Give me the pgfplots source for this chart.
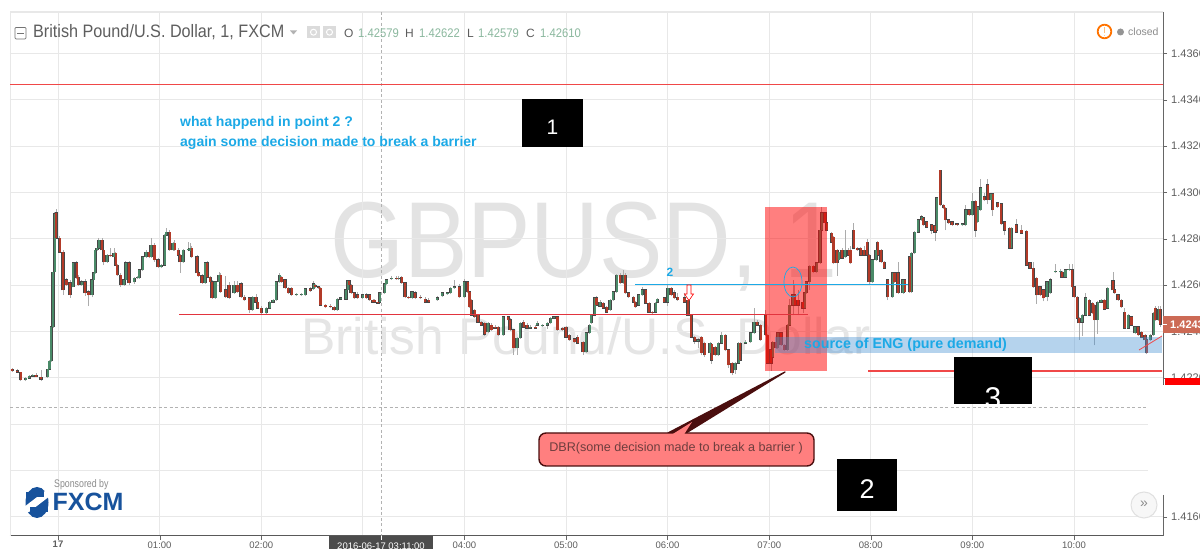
\documentclass[border=0pt]{standalone}
\usepackage{pgfplots}
\usepackage{pgfplotstable}
\usepackage{fontspec}
\setmainfont{Liberation Sans}
\pgfplotsset{compat=1.18}
\definecolor{gridc}{HTML}{E8E8E8}
\definecolor{upc}{HTML}{4A8A68}
\definecolor{dnc}{HTML}{B23A28}
\definecolor{txtb}{HTML}{1CA9E6}
\definecolor{lab}{HTML}{5E5E5E}
\definecolor{ohlc}{HTML}{8BB89E}
\definecolor{lastc}{HTML}{CC6A55}
\definecolor{fxcm}{HTML}{17529C}
\definecolor{redline}{HTML}{E2343E}
\definecolor{redsoft}{HTML}{F04848}
\definecolor{redbox}{HTML}{FF7F7F}
\definecolor{bandc}{HTML}{4691D4}
\definecolor{darkred}{HTML}{4A0E0E}
\pgfplotstableread{
m o h l c
-27 1.42238 1.42242 1.42225 1.42230
-24 1.42230 1.42238 1.42221 1.42225
-22 1.42225 1.42225 1.42186 1.42191
-19 1.42191 1.42204 1.42186 1.42199
-17 1.42199 1.42212 1.42195 1.42208
-15 1.42208 1.42216 1.42204 1.42212
-13 1.42212 1.42221 1.42208 1.42204
-10 1.42204 1.42234 1.42186 1.42195
-6 1.42204 1.42238 1.42199 1.42238
-5 1.42238 1.42277 1.42234 1.42273
-4 1.42273 1.42424 1.42269 1.42420
-3 1.42420 1.42700 1.42416 1.42657
-2 1.42657 1.42917 1.42653 1.42908
-1 1.42912 1.42929 1.42799 1.42803
1 1.42803 1.42812 1.42739 1.42743
3 1.42743 1.42752 1.42558 1.42580
5 1.42623 1.42632 1.42597 1.42601
7 1.42610 1.42623 1.42545 1.42558
9 1.42593 1.42700 1.42593 1.42696
11 1.42696 1.42705 1.42627 1.42631
12 1.42635 1.42644 1.42597 1.42601
14 1.42601 1.42623 1.42597 1.42614
16 1.42614 1.42627 1.42554 1.42567
18 1.42571 1.42580 1.42510 1.42558
20 1.42558 1.42627 1.42549 1.42623
21 1.42623 1.42657 1.42619 1.42653
22 1.42653 1.42756 1.42649 1.42752
23 1.42752 1.42769 1.42748 1.42760
24 1.42760 1.42803 1.42756 1.42795
26 1.42795 1.42803 1.42748 1.42752
27 1.42752 1.42760 1.42687 1.42700
29 1.42700 1.42735 1.42696 1.42730
31 1.42730 1.42760 1.42722 1.42726
33 1.42722 1.42760 1.42717 1.42739
34 1.42739 1.42743 1.42683 1.42687
35 1.42687 1.42692 1.42640 1.42644
37 1.42644 1.42653 1.42593 1.42601
39 1.42601 1.42627 1.42597 1.42623
40 1.42623 1.42705 1.42619 1.42696
42 1.42696 1.42705 1.42601 1.42610
45 1.42614 1.42635 1.42606 1.42631
47 1.42631 1.42640 1.42627 1.42635
48 1.42631 1.42670 1.42627 1.42666
50 1.42666 1.42726 1.42661 1.42722
52 1.42722 1.42752 1.42717 1.42743
54 1.42743 1.42748 1.42717 1.42722
55 1.42722 1.42803 1.42717 1.42773
57 1.42773 1.42782 1.42700 1.42709
59 1.42709 1.42717 1.42674 1.42679
61 1.42679 1.42692 1.42674 1.42687
63 1.42687 1.42820 1.42683 1.42816
64 1.42816 1.42846 1.42812 1.42829
66 1.42829 1.42838 1.42748 1.42752
68 1.42752 1.42786 1.42748 1.42782
69 1.42782 1.42795 1.42748 1.42752
71 1.42752 1.42760 1.42726 1.42730
72 1.42730 1.42735 1.42653 1.42700
74 1.42700 1.42756 1.42696 1.42752
77 1.42752 1.42786 1.42748 1.42756
78 1.42748 1.42782 1.42743 1.42760
79 1.42760 1.42769 1.42717 1.42722
82 1.42722 1.42730 1.42648 1.42653
83 1.42653 1.42661 1.42635 1.42640
85 1.42640 1.42648 1.42606 1.42610
87 1.42610 1.42700 1.42606 1.42696
88 1.42696 1.42705 1.42631 1.42635
90 1.42635 1.42640 1.42610 1.42614
91 1.42614 1.42623 1.42540 1.42545
93 1.42545 1.42619 1.42540 1.42614
95 1.42614 1.42657 1.42610 1.42644
96 1.42644 1.42653 1.42567 1.42571
99 1.42580 1.42640 1.42545 1.42549
101 1.42601 1.42614 1.42540 1.42545
104 1.42567 1.42619 1.42562 1.42601
106 1.42601 1.42619 1.42567 1.42571
108 1.42606 1.42614 1.42545 1.42549
110 1.42549 1.42558 1.42532 1.42536
113 1.42545 1.42549 1.42480 1.42493
115 1.42493 1.42553 1.42489 1.42549
117 1.42549 1.42562 1.42523 1.42527
118 1.42527 1.42532 1.42497 1.42501
120 1.42501 1.42510 1.42471 1.42480
123 1.42480 1.42506 1.42475 1.42501
125 1.42501 1.42532 1.42497 1.42527
127 1.42527 1.42540 1.42523 1.42536
129 1.42536 1.42619 1.42532 1.42614
131 1.42614 1.42653 1.42610 1.42644
132 1.42635 1.42640 1.42610 1.42614
134 1.42623 1.42627 1.42584 1.42588
136 1.42588 1.42593 1.42562 1.42567
138 1.42588 1.42593 1.42553 1.42558
141 1.42558 1.42567 1.42553 1.42562
144 1.42558 1.42567 1.42553 1.42562
146 1.42558 1.42588 1.42553 1.42584
149 1.42584 1.42593 1.42571 1.42575
151 1.42584 1.42619 1.42580 1.42606
152 1.42601 1.42606 1.42588 1.42593
154 1.42593 1.42597 1.42584 1.42588
155 1.42588 1.42593 1.42510 1.42514
158 1.42514 1.42519 1.42501 1.42506
161 1.42510 1.42519 1.42501 1.42506
163 1.42506 1.42510 1.42489 1.42493
165 1.42493 1.42545 1.42489 1.42540
167 1.42540 1.42549 1.42536 1.42545
170 1.42540 1.42584 1.42536 1.42580
171 1.42580 1.42623 1.42575 1.42619
172 1.42619 1.42623 1.42597 1.42601
173 1.42601 1.42606 1.42562 1.42567
175 1.42567 1.42571 1.42540 1.42545
177 1.42558 1.42571 1.42540 1.42545
180 1.42545 1.42562 1.42540 1.42558
182 1.42558 1.42567 1.42540 1.42545
184 1.42558 1.42562 1.42532 1.42536
186 1.42536 1.42540 1.42523 1.42527
187 1.42536 1.42540 1.42523 1.42527
189 1.42527 1.42532 1.42519 1.42523
190 1.42527 1.42571 1.42523 1.42567
193 1.42567 1.42610 1.42562 1.42606
194 1.42606 1.42627 1.42601 1.42623
197 1.42627 1.42640 1.42623 1.42631
200 1.42631 1.42640 1.42623 1.42627
201 1.42627 1.42640 1.42623 1.42631
203 1.42635 1.42640 1.42606 1.42610
205 1.42610 1.42614 1.42545 1.42549
207 1.42549 1.42553 1.42540 1.42545
209 1.42545 1.42575 1.42540 1.42571
211 1.42567 1.42575 1.42540 1.42545
214 1.42549 1.42558 1.42540 1.42545
217 1.42540 1.42549 1.42523 1.42527
219 1.42536 1.42545 1.42523 1.42527
224 1.42536 1.42553 1.42532 1.42545
227 1.42554 1.42571 1.42549 1.42567
230 1.42562 1.42571 1.42558 1.42567
232 1.42567 1.42592 1.42562 1.42588
234 1.42588 1.42623 1.42584 1.42593
237 1.42593 1.42606 1.42545 1.42549
240 1.42549 1.42627 1.42545 1.42614
242 1.42614 1.42619 1.42567 1.42571
243 1.42571 1.42576 1.42502 1.42506
244 1.42536 1.42540 1.42467 1.42471
246 1.42493 1.42497 1.42459 1.42463
248 1.42471 1.42476 1.42437 1.42441
250 1.42441 1.42445 1.42424 1.42428
252 1.42437 1.42441 1.42380 1.42389
254 1.42398 1.42441 1.42394 1.42437
256 1.42428 1.42437 1.42402 1.42407
258 1.42419 1.42428 1.42411 1.42415
260 1.42419 1.42424 1.42381 1.42385
263 1.42385 1.42467 1.42381 1.42463
266 1.42463 1.42467 1.42445 1.42450
267 1.42450 1.42458 1.42402 1.42407
269 1.42407 1.42411 1.42299 1.42329
271 1.42329 1.42376 1.42299 1.42372
273 1.42372 1.42441 1.42368 1.42437
275 1.42441 1.42450 1.42415 1.42419
277 1.42428 1.42437 1.42411 1.42415
279 1.42415 1.42428 1.42411 1.42419
282 1.42419 1.42428 1.42411 1.42415
283 1.42428 1.42445 1.42424 1.42437
286 1.42424 1.42432 1.42420 1.42428
289 1.42428 1.42441 1.42411 1.42437
291 1.42437 1.42463 1.42432 1.42458
293 1.42458 1.42467 1.42454 1.42463
295 1.42463 1.42467 1.42402 1.42407
298 1.42415 1.42419 1.42402 1.42407
300 1.42419 1.42424 1.42372 1.42376
302 1.42385 1.42389 1.42360 1.42364
305 1.42368 1.42372 1.42350 1.42355
307 1.42376 1.42385 1.42346 1.42350
310 1.42355 1.42360 1.42299 1.42312
312 1.42312 1.42398 1.42308 1.42394
314 1.42394 1.42432 1.42389 1.42428
315 1.42437 1.42475 1.42432 1.42471
317 1.42471 1.42549 1.42467 1.42545
318 1.42545 1.42553 1.42510 1.42514
320 1.42510 1.42536 1.42506 1.42527
322 1.42523 1.42527 1.42497 1.42501
324 1.42506 1.42510 1.42480 1.42484
326 1.42493 1.42540 1.42489 1.42536
328 1.42536 1.42575 1.42532 1.42571
330 1.42571 1.42648 1.42567 1.42644
332 1.42644 1.42653 1.42606 1.42610
334 1.42610 1.42666 1.42606 1.42644
335 1.42644 1.42653 1.42562 1.42567
337 1.42567 1.42571 1.42545 1.42549
340 1.42549 1.42553 1.42523 1.42527
341 1.42527 1.42532 1.42502 1.42506
343 1.42514 1.42562 1.42510 1.42558
345 1.42558 1.42593 1.42553 1.42580
347 1.42580 1.42584 1.42519 1.42523
349 1.42523 1.42527 1.42480 1.42484
351 1.42484 1.42489 1.42471 1.42480
353 1.42484 1.42527 1.42480 1.42523
354 1.42527 1.42545 1.42523 1.42540
358 1.42545 1.42549 1.42523 1.42527
360 1.42527 1.42601 1.42510 1.42588
362 1.42588 1.42592 1.42553 1.42558
364 1.42567 1.42580 1.42540 1.42545
366 1.42549 1.42567 1.42532 1.42536
370 1.42545 1.42567 1.42523 1.42527
372 1.42536 1.42540 1.42467 1.42471
374 1.42471 1.42476 1.42372 1.42376
376 1.42376 1.42381 1.42346 1.42359
378 1.42359 1.42372 1.42329 1.42364
380 1.42376 1.42380 1.42299 1.42308
382 1.42350 1.42355 1.42290 1.42299
385 1.42308 1.42355 1.42304 1.42350
386 1.42346 1.42350 1.42260 1.42277
388 1.42333 1.42338 1.42294 1.42299
390 1.42299 1.42355 1.42295 1.42350
392 1.42350 1.42400 1.42346 1.42385
394 1.42385 1.42390 1.42316 1.42321
396 1.42321 1.42326 1.42243 1.42256
398 1.42264 1.42268 1.42212 1.42221
400 1.42234 1.42268 1.42216 1.42264
402 1.42264 1.42355 1.42260 1.42350
403 1.42350 1.42355 1.42273 1.42277
406 1.42350 1.42365 1.42346 1.42355
409 1.42355 1.42398 1.42350 1.42394
411 1.42394 1.42502 1.42389 1.42441
413 1.42441 1.42450 1.42424 1.42428
415 1.42428 1.42432 1.42360 1.42364
418 1.42471 1.42493 1.42381 1.42385
419 1.42385 1.42389 1.42260 1.42264
421 1.42321 1.42325 1.42230 1.42264
422 1.42290 1.42360 1.42286 1.42355
424 1.42355 1.42360 1.42325 1.42329
425 1.42329 1.42398 1.42325 1.42394
427 1.42394 1.42398 1.42338 1.42342
429 1.42342 1.42346 1.42316 1.42321
431 1.42321 1.42432 1.42316 1.42428
432 1.42428 1.42540 1.42424 1.42514
434 1.42514 1.42623 1.42470 1.42558
435 1.42558 1.42600 1.42510 1.42514
437 1.42536 1.42580 1.42470 1.42514
440 1.42527 1.42532 1.42480 1.42501
441 1.42501 1.42571 1.42497 1.42567
442 1.42567 1.42618 1.42562 1.42614
444 1.42614 1.42687 1.42580 1.42683
446 1.42683 1.42687 1.42652 1.42657
448 1.42657 1.42700 1.42652 1.42696
450 1.42696 1.42842 1.42692 1.42838
451 1.42838 1.42938 1.42833 1.42912
453 1.42912 1.42916 1.42865 1.42869
454 1.42869 1.42873 1.42833 1.42838
457 1.42825 1.42830 1.42781 1.42786
458 1.42808 1.42812 1.42691 1.42696
460 1.42752 1.42756 1.42640 1.42696
461 1.42709 1.42748 1.42705 1.42743
463 1.42752 1.42760 1.42712 1.42717
465 1.42722 1.42838 1.42717 1.42752
467 1.42752 1.42760 1.42725 1.42730
468 1.42752 1.42770 1.42691 1.42696
470 1.42838 1.42869 1.42755 1.42760
472 1.42760 1.42765 1.42747 1.42752
474 1.42760 1.42765 1.42725 1.42730
476 1.42752 1.42770 1.42725 1.42730
478 1.42786 1.42799 1.42725 1.42730
479 1.42730 1.42735 1.42601 1.42614
481 1.42614 1.42713 1.42610 1.42709
483 1.42709 1.42756 1.42705 1.42752
484 1.42786 1.42791 1.42725 1.42730
486 1.42752 1.42756 1.42695 1.42700
488 1.42700 1.42705 1.42669 1.42674
490 1.42623 1.42627 1.42536 1.42549
493 1.42549 1.42657 1.42545 1.42653
494 1.42653 1.42657 1.42610 1.42614
496 1.42653 1.42700 1.42562 1.42567
499 1.42567 1.42627 1.42562 1.42623
500 1.42623 1.42628 1.42566 1.42571
503 1.42722 1.42726 1.42566 1.42571
504 1.42571 1.42743 1.42566 1.42739
506 1.42739 1.42833 1.42734 1.42829
508 1.42829 1.42886 1.42825 1.42882
510 1.42882 1.42903 1.42878 1.42895
511 1.42891 1.42895 1.42855 1.42860
513 1.42873 1.42878 1.42846 1.42851
516 1.42860 1.42865 1.42820 1.42838
518 1.42856 1.42860 1.42790 1.42829
519 1.42838 1.42981 1.42833 1.42977
521 1.43097 1.43097 1.42941 1.42946
523 1.42946 1.42950 1.42928 1.42933
524 1.42933 1.42937 1.42838 1.42882
526 1.42882 1.42887 1.42864 1.42869
528 1.42873 1.42877 1.42855 1.42860
531 1.42865 1.42870 1.42855 1.42860
534 1.42860 1.42869 1.42855 1.42865
536 1.42860 1.42946 1.42855 1.42925
538 1.42925 1.42930 1.42898 1.42903
540 1.42903 1.42998 1.42898 1.42963
542 1.42963 1.42967 1.42808 1.42838
543 1.42873 1.42942 1.42868 1.42938
545 1.42925 1.43058 1.42920 1.43020
547 1.42981 1.43000 1.42963 1.42968
549 1.43033 1.43058 1.42950 1.42968
551 1.42968 1.42998 1.42963 1.42994
552 1.42994 1.42998 1.42900 1.42925
555 1.42955 1.42960 1.42933 1.42938
557 1.42951 1.42955 1.42860 1.42865
559 1.42873 1.42877 1.42815 1.42838
562 1.42846 1.42850 1.42755 1.42760
563 1.42760 1.42850 1.42755 1.42846
566 1.42860 1.42885 1.42825 1.42829
569 1.42838 1.42860 1.42820 1.42825
572 1.42833 1.42838 1.42682 1.42687
574 1.42696 1.42700 1.42670 1.42674
576 1.42674 1.42700 1.42588 1.42593
578 1.42631 1.42636 1.42520 1.42558
580 1.42593 1.42598 1.42553 1.42558
582 1.42580 1.42584 1.42530 1.42545
584 1.42549 1.42618 1.42530 1.42614
586 1.42567 1.42630 1.42562 1.42623
589 1.42657 1.42690 1.42652 1.42661
592 1.42657 1.42670 1.42652 1.42661
593 1.42657 1.42662 1.42630 1.42635
595 1.42635 1.42670 1.42630 1.42666
597 1.42666 1.42690 1.42661 1.42670
599 1.42666 1.42690 1.42588 1.42593
600 1.42593 1.42598 1.42544 1.42549
602 1.42549 1.42553 1.42453 1.42458
603 1.42458 1.42462 1.42365 1.42437
605 1.42441 1.42475 1.42380 1.42471
607 1.42471 1.42567 1.42466 1.42545
609 1.42536 1.42540 1.42466 1.42471
611 1.42523 1.42527 1.42475 1.42480
612 1.42514 1.42518 1.42340 1.42450
614 1.42450 1.42531 1.42390 1.42527
616 1.42527 1.42541 1.42522 1.42536
618 1.42536 1.42541 1.42492 1.42497
620 1.42501 1.42592 1.42496 1.42588
623 1.42619 1.42657 1.42575 1.42580
624 1.42580 1.42584 1.42562 1.42567
626 1.42558 1.42562 1.42531 1.42536
628 1.42536 1.42541 1.42501 1.42506
630 1.42484 1.42500 1.42410 1.42415
632 1.42415 1.42475 1.42410 1.42471
634 1.42463 1.42467 1.42423 1.42428
636 1.42394 1.42424 1.42389 1.42420
638 1.42420 1.42424 1.42380 1.42385
640 1.42398 1.42402 1.42371 1.42376
642 1.42385 1.42389 1.42359 1.42364
643 1.42364 1.42368 1.42303 1.42308
645 1.42364 1.42389 1.42359 1.42385
647 1.42385 1.42484 1.42380 1.42480
648 1.42501 1.42510 1.42445 1.42450
650 1.42450 1.42510 1.42445 1.42497
651 1.42497 1.42510 1.42420 1.42432
}\candles
\begin{document}
\begin{tikzpicture}[x=1pt,y=1pt]
\path[use as bounding box,clip] (0,0) rectangle (1200,549);
\fill[white] (0,0) rectangle (1200,549);
\begin{scope}[x=1pt,y=-1pt,yshift=549pt]
\node[anchor=west,inner sep=0pt,text=gray!22,xscale=.88] at (330,247) {\fontsize{108}{108}\selectfont GBPUSD, 1};
\node[anchor=west,inner sep=0pt,text=gray!20] at (301,336) {\fontsize{51.5}{52}\selectfont British Pound/U.S. Dollar};
\end{scope}
\begin{axis}[
  at={(10pt,13.3pt)},anchor=south west,
  scale only axis,width=1153pt,height=523.7pt,
  xmin=-28.35,xmax=652.6,ymin=1.41519,ymax=1.43779,
  axis y line*=right,axis x line*=bottom,
  axis line style={draw=black!65,-},
  grid=major,grid style={gridc,line width=.9pt},
  xtick={0,60,120,180,240,300,360,420,480,540,600},
  xticklabels={\textbf{17},01:00,02:00,{},04:00,05:00,06:00,07:00,08:00,09:00,10:00},
  ytick={1.416,1.418,1.42,1.422,1.424,1.426,1.428,1.43,1.432,1.434,1.436},
  yticklabels={1.4160,1.4180,1.4200,1.4220,1.4240,1.4260,1.4280,1.4300,1.4320,1.4340,1.4360},
  tick align=outside,major tick length=4pt,
  tick style={draw=black!60},
  xticklabel style={font=\fontsize{9.5}{10}\selectfont,text=lab,inner sep=0pt,yshift=-1.5pt},
  yticklabel style={font=\fontsize{11}{12}\selectfont,text=lab,inner sep=0pt,anchor=west,xshift=4pt},
  clip=true,
  error bars/error mark=none,
]
\addplot[draw=none,mark=none,forget plot,error bars/.cd,y dir=plus,y explicit,
  error bar style={draw=gray!65,line width=.7pt}]
  table[x=m,y=l,y error plus expr=\thisrow{h}-\thisrow{l}] {\candles};
\addplot[draw=none,mark=none,forget plot,error bars/.cd,y dir=plus,y explicit,
  error bar style={draw=black!72,line width=3.3pt}]
  table[x=m,y expr={min(\thisrow{o},\thisrow{c})-0.00002},y error plus expr={abs(\thisrow{c}-\thisrow{o})+0.00004}] {\candles};
\addplot[draw=none,mark=none,forget plot,unbounded coords=discard,error bars/.cd,y dir=plus,y explicit,
  error bar style={draw=upc,line width=2.1pt}]
  table[x=m,y expr={\thisrow{c}>=\thisrow{o}?\thisrow{o}:nan},y error plus expr={\thisrow{c}-\thisrow{o}}] {\candles};
\addplot[draw=none,mark=none,forget plot,unbounded coords=discard,error bars/.cd,y dir=plus,y explicit,
  error bar style={draw=dnc,line width=2.1pt}]
  table[x=m,y expr={\thisrow{c}<\thisrow{o}?\thisrow{c}:nan},y error plus expr={\thisrow{o}-\thisrow{c}}] {\candles};
\end{axis}
\begin{scope}[x=1pt,y=-1pt,yshift=549pt]
\draw[gridc,line width=1.6pt] (10,12) -- (1163,12);
\draw[gridc,line width=1pt] (10,12) -- (10,536);
\draw[black!60,line width=.8pt] (1163,12) -- (1163,384);
\draw[gray!60,line width=.6pt,dash pattern=on 3pt off 2.5pt] (381.5,12) -- (381.5,536);
\draw[gray!60,line width=.6pt,dash pattern=on 3pt off 2.5pt] (10,407) -- (1163,407);
\fill[redsoft] (10,84.5) rectangle (1163,85.5);
\fill[red,opacity=.5] (765,207) rectangle (827,371);
\draw[color=redline,line width=1pt] (179,315) -- (808,315);
\draw[txtb,line width=1pt] (635,285) -- (908,285);
\draw[txtb,line width=.7pt] (793,282) ellipse [x radius=9,y radius=15];
\node[text=txtb,inner sep=0pt] at (670,272.5) {\fontsize{12}{12}\selectfont\textbf{2}};
\draw[red,line width=.6pt,fill=white] (687,285)--(691,285)--(691,294)--(693.5,294)--(689,300.5)--(684.5,294)--(687,294)--cycle;
\fill[bandc,opacity=.4] (775,337) rectangle (1162,353);
\node[anchor=west,inner sep=0pt,text=txtb] at (804,345) {\fontsize{14.3}{15}\selectfont\textbf{source of ENG (pure demand)}};
\draw[color=redsoft,line width=1.1pt] (868,371) -- (1162,371);
\draw[color=redsoft,line width=.8pt] (1139,350) -- (1162,336);
\node[anchor=west,inner sep=0pt,text=txtb] at (180,123) {\fontsize{14}{15}\selectfont\textbf{what happend in point 2 ?}};
\node[anchor=west,inner sep=0pt,text=txtb] at (180,143) {\fontsize{14}{15}\selectfont\textbf{again some decision made to break a barrier}};
\fill[black] (522,99) rectangle (583,147);
\node[text=white,inner sep=0pt] at (552.5,127) {\fontsize{21}{21}\selectfont 1};
\fill[black] (837,459) rectangle (897,511);
\node[text=white,inner sep=0pt] at (867,489) {\fontsize{27}{27}\selectfont 2};
\begin{scope}
\clip (954,357) rectangle (1032,403.5);
\fill[black] (954,357) rectangle (1032,404);
\node[text=white,inner sep=0pt] at (993,398) {\fontsize{30}{30}\selectfont 3};
\end{scope}
\draw[line width=1.3pt,draw=darkred,fill=redbox,line join=round]
  (668,433) -- (785,372) -- (686,433) -- cycle;
\draw[line width=1.4pt,draw=darkred,fill=redbox,rounded corners=7pt]
  (539,433) rectangle (814,466);
\fill[darkred] (668,433) -- (785,372) -- (686,433) -- cycle;
\fill[redbox] (672,434.5) -- (692,422) -- (684,434.5) -- cycle;
\node[inner sep=0pt,text=darkred!80] at (676,448.5) {\fontsize{12.6}{13}\selectfont DBR(some decision made to break a barrier )};
\fill[white] (1148,385) rectangle (1200,495);
\draw[black!60,line width=.8pt] (1163,495) -- (1163,536);
\fill[lastc] (1163,316) rectangle (1200,333);
\draw[white,line width=.7pt] (1163,324.5) -- (1167,324.5);
\node[anchor=west,inner sep=0pt,text=white] at (1170,324.5) {\fontsize{11}{12}\selectfont\textbf{1.4243}};
\fill[red] (1165,378) rectangle (1200,385);
\fill[black!70] (329,536.4) rectangle (432.5,549);
\node[inner sep=0pt,text=white] at (381,546) {\fontsize{9.5}{10}\selectfont 2016-06-17 03:11:00};
\draw[white] (381.5,536.4) -- (381.5,540);
\draw[black!55,line width=.7pt,rounded corners=1pt] (15,27.5) rectangle (26,39);
\draw[black!55,line width=.7pt] (17,33) -- (24,33);
\node[anchor=west,inner sep=0pt,text=lab,xscale=.90] at (33,32.5) {\fontsize{18}{18}\selectfont British Pound/U.S. Dollar, 1, FXCM};
\fill[black!30] (290,30.5) -- (297,30.5) -- (293.5,34.5) -- cycle;
\fill[black!14] (307,26) rectangle (320,38.5);
\fill[black!14] (323,26) rectangle (336,38.5);
\draw[white,line width=1pt] (313.5,32.2) circle [radius=3];
\draw[white,line width=1pt] (329.5,32.2) circle [radius=3];
\node[anchor=west,inner sep=0pt,text=lab] at (344,33) {\fontsize{12}{12}\selectfont O};
\node[anchor=west,inner sep=0pt,text=ohlc,xscale=.9] at (358,33) {\fontsize{12.5}{12}\selectfont 1.42579};
\node[anchor=west,inner sep=0pt,text=lab] at (405,33) {\fontsize{12}{12}\selectfont H};
\node[anchor=west,inner sep=0pt,text=ohlc,xscale=.9] at (419,33) {\fontsize{12.5}{12}\selectfont 1.42622};
\node[anchor=west,inner sep=0pt,text=lab] at (467,33) {\fontsize{12}{12}\selectfont L};
\node[anchor=west,inner sep=0pt,text=ohlc,xscale=.9] at (478,33) {\fontsize{12.5}{12}\selectfont 1.42579};
\node[anchor=west,inner sep=0pt,text=lab] at (526,33) {\fontsize{12}{12}\selectfont C};
\node[anchor=west,inner sep=0pt,text=ohlc,xscale=.9] at (540,33) {\fontsize{12.5}{12}\selectfont 1.42610};
\draw[orange!90!red,line width=1.8pt,fill=white] (1104.5,31.5) circle [radius=6.8];
\draw[orange!50,line width=.8pt] (1104.5,27.5) -- (1104.5,33.5);
\fill[orange!50] (1104.5,35.3) circle [radius=.5];
\fill[black!42] (1120.5,32) circle [radius=3.5];
\node[anchor=west,inner sep=0pt,text=black!45] at (1128,31.5) {\fontsize{10.5}{11}\selectfont closed};
\node[anchor=west,inner sep=0pt,text=gray!90,xscale=.8] at (54,485) {\fontsize{11}{11}\selectfont Sponsored by};
\fill[fxcm] (37,502.5) ellipse [x radius=11.5,y radius=15.5];
\fill[white] (24,507) -- (45,491) -- (50,491) -- (50,496) -- (29,512) -- (24,512) -- cycle;
\fill[fxcm] (26,492) -- (44,492) -- (44,497.5) -- (26,497.5) -- cycle;
\fill[fxcm] (30,507) -- (48,507) -- (48,512) -- (30,512) -- cycle;
\node[anchor=west,inner sep=0pt,text=fxcm] at (52.5,502) {\fontsize{25}{25}\selectfont\textbf{FXCM}};
\draw[black!12,line width=1pt,fill=black!3] (1144,505) circle [radius=13];
\node[text=black!45,inner sep=0pt] at (1144,504.5) {\fontsize{14}{14}\selectfont »};
\end{scope}
\end{tikzpicture}
\end{document}
